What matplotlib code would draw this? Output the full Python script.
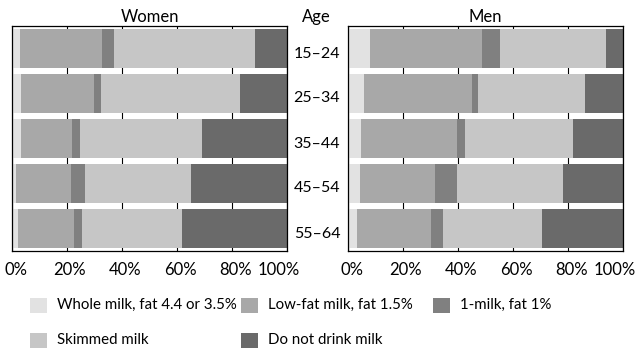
import numpy as np
import matplotlib.pyplot as plt
from matplotlib.patches import Rectangle
from matplotlib.transforms import ScaledTranslation

plt.rcParams['font.family'] = ['Lato', 'DejaVu Sans']

ages = ['15\u201324', '25\u201334', '35\u201344', '45\u201354', '55\u201364']
categories = ['Whole milk, fat 4.4 or 3.5%', 'Low-fat milk, fat 1.5%', '1-milk, fat 1%',
              'Skimmed milk', 'Do not drink milk']
colors = ['#e2e2e2', '#a8a8a8', '#808080', '#c6c6c6', '#6a6a6a']
xticks = [0, 20, 40, 60, 80, 100]
xticklabels = ['0%', '20%', '40%', '60%', '80%', '100%']

# percentages per age group, in category order
women = [
    [2.9, 29.7, 4.4, 51.5, 11.5],
    [3.2, 26.6, 2.4, 50.6, 17.2],
    [3.2, 18.5, 3.1, 44.4, 30.8],
    [1.5, 19.8, 5.4, 38.3, 35.0],
    [2.3, 20.2, 3.0, 36.3, 38.2],
]
men = [
    [8.0, 40.6, 6.8, 38.3, 6.3],
    [5.8, 39.2, 2.4, 38.7, 13.9],
    [4.6, 34.9, 3.2, 39.1, 18.2],
    [4.5, 27.3, 8.0, 38.4, 21.8],
    [3.2, 27.1, 4.4, 35.7, 29.6],
]

fig = plt.figure(figsize=(6.4, 3.48), dpi=100)
ax_w = fig.add_axes([12 / 640, 97 / 348, 275 / 640, 225 / 348])
ax_m = fig.add_axes([348 / 640, 97 / 348, 275 / 640, 225 / 348])

y = np.arange(len(ages))
for ax, data, title in [(ax_w, women, 'Women'), (ax_m, men, 'Men')]:
    data = np.array(data)
    left = np.zeros(len(ages))
    for i in range(len(categories)):
        ax.barh(y, data[:, i], left=left, height=0.85, color=colors[i], zorder=2)
        left += data[:, i]
    ax.set_xlim(0, 100)
    ax.set_ylim(4.5, -0.5)
    ax.set_yticks([])
    ax.set_xticks(xticks)
    ax.set_xticklabels(xticklabels, fontsize=12)
    ax.tick_params(axis='x', length=0, pad=8)
    # nudge labels like the original: slightly right, last one pulled in
    for lbl, dx in zip(ax.get_xticklabels(), [4, 3, 3, 3, 4, -8]):
        lbl.set_transform(lbl.get_transform() + ScaledTranslation(dx / 100, 0, fig.dpi_scale_trans))
    ax.grid(axis='x', color='black', linewidth=0.8, zorder=0)
    for s in ax.spines.values():
        s.set_color('black')
        s.set_linewidth(0.9)
    ax.set_title(title, fontsize=12, pad=3)

fig.text(316 / 640, 1 - 17 / 348, 'Age', ha='center', va='center', fontsize=12)
for i, a in enumerate(ages):
    yd = ax_w.transData.transform((0, i))[1]
    fig.text(317 / 640, (yd - 5) / 348, a, ha='center', va='center', fontsize=11.5)

# legend, two rows
legend_pos = [(30, 305), (241, 305), (433, 305), (30, 340), (241, 340)]
for (px, py), lab, c in zip(legend_pos, categories, colors):
    fig.add_artist(Rectangle((px / 640, (348 - py - 8) / 348), 17 / 640, 15 / 348,
                             transform=fig.transFigure, facecolor=c, edgecolor='none'))
    fig.text((px + 27) / 640, 1 - py / 348, lab, ha='left', va='center', fontsize=10.8)

fig.savefig('out.png', dpi=100)
